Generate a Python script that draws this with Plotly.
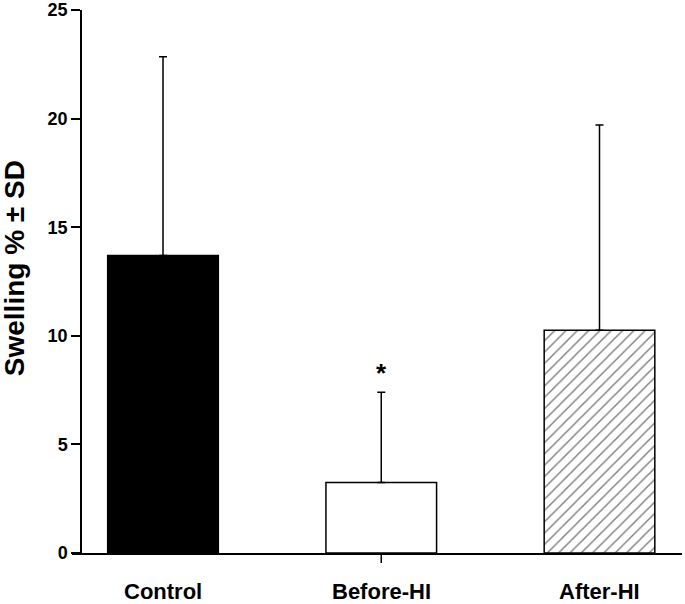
import plotly.graph_objects as go

categories = ["Control", "Before-HI", "After-HI"]
means = [13.7, 3.25, 10.25]
sd = [9.15, 4.15, 9.45]
y_ticks = [0, 5, 10, 15, 20, 25]
x_pos = [0, 1, 2]
fills = ["black", "white", "white"]
hatches = ["", "", "/"]

FONT = "Liberation Sans, Arial, Helvetica, sans-serif"
PLOT_H = 604 - 10 - 51

fig = go.Figure()
for xp, m, s, f, h in zip(x_pos, means, sd, fills, hatches):
    marker = dict(color=f, line=dict(color="black", width=1.5))
    if h:
        marker["pattern"] = dict(shape=h, fgcolor="black", bgcolor="white",
                                 size=8, solidity=0.18, fillmode="overlay")
    fig.add_trace(go.Bar(
        x=[xp], y=[m], width=0.507, marker=marker,
        error_y=dict(type="data", symmetric=False, array=[s], arrayminus=[0],
                     color="black", thickness=1.5, width=4),
        showlegend=False, hoverinfo="skip",
    ))

# category labels under the axis
for xp, lab in zip(x_pos, categories):
    fig.add_annotation(x=xp, xref="x", y=0, yref="paper", text=lab,
                       showarrow=False, yanchor="top", yshift=-24,
                       font=dict(family=FONT, size=22, color="black", weight="bold"))

# single x tick mark under Before-HI
fig.add_shape(type="line", xref="x", yref="paper",
              x0=x_pos[1], x1=x_pos[1], y0=0, y1=-10 / PLOT_H,
              line=dict(color="black", width=1.5), layer="above")

# significance marker above Before-HI
fig.add_annotation(x=x_pos[1], y=means[1] + sd[1], text="*", showarrow=False,
                   yanchor="bottom", yshift=2,
                   font=dict(family=FONT, size=26, color="black", weight="bold"))

# y-axis title
fig.add_annotation(xref="paper", yref="paper", x=-0.093, y=0.525,
                   text="Swelling % ± SD", textangle=-90, showarrow=False,
                   xanchor="center", yanchor="middle",
                   font=dict(family=FONT, size=28, color="black", weight="bold"))

x_range = [-0.417, 2.378]
fig.update_layout(
    width=685, height=604,
    margin=dict(l=72, r=3, t=10, b=51, autoexpand=False),
    plot_bgcolor="white", paper_bgcolor="white",
    barmode="overlay",
    xaxis=dict(
        range=x_range, showgrid=False, zeroline=False, automargin=False,
        showline=True, linecolor="black", linewidth=1.5,
        showticklabels=False, ticks="",
    ),
    yaxis=dict(
        range=[0, 25], tickmode="array", tickvals=y_ticks, automargin=False,
        anchor="free", position=0.01475,
        showgrid=False, zeroline=False, showline=True,
        linecolor="black", linewidth=1.5,
        ticks="outside", ticklen=9, tickwidth=1.5, tickcolor="black",
        tickfont=dict(family=FONT, size=18, color="black", weight="bold"),
    ),
)

fig.write_html("out.html", config={"displayModeBar": False},
               post_script="document.body.style.margin='0';document.body.style.overflow='hidden';")
